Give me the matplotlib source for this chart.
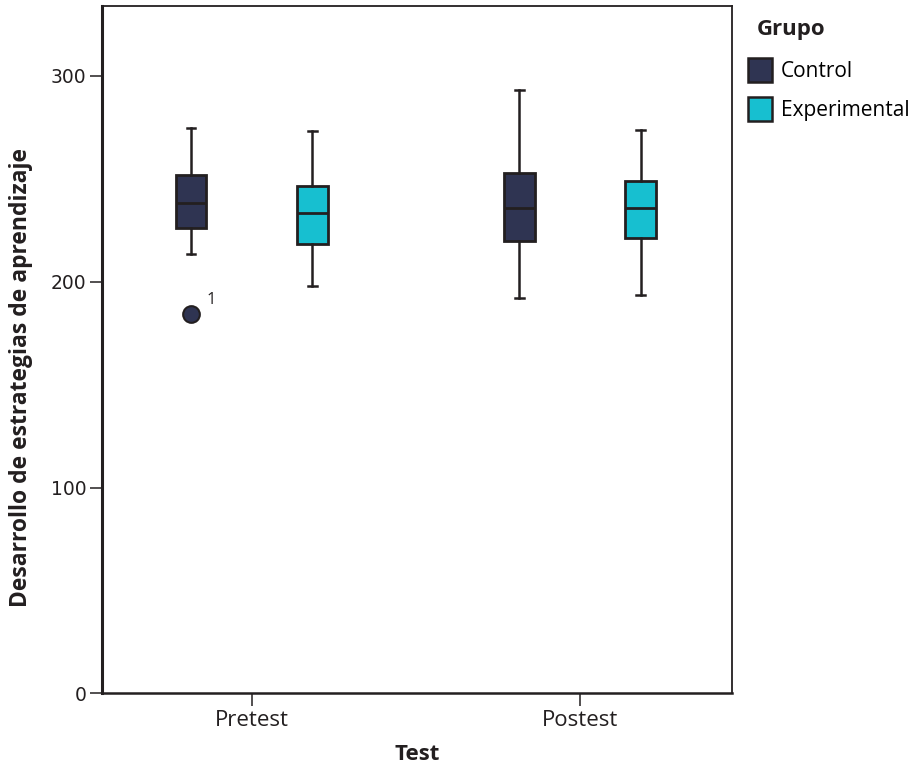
import matplotlib
matplotlib.use("Agg")
import matplotlib.pyplot as plt
from matplotlib.patches import Patch

plt.rcParams['font.family'] = ['Open Sans', 'DejaVu Sans']

tests = ["Pretest", "Postest"]
groups = ["Control", "Experimental"]
colors = ["#2f3452", "#17bfd0"]

# five-number summaries per group per test: [whislo, q1, med, q3, whishi]
control_stats = [[213.4, 225.9, 238.3, 251.7, 274.6],
                 [192.0, 219.6, 235.9, 252.9, 293.3]]
experimental_stats = [[197.9, 218.3, 233.1, 246.3, 273.2],
                      [193.6, 221.1, 235.8, 249.0, 273.5]]
control_outliers = [[184.5], []]
experimental_outliers = [[], []]
outlier_labels = [["1"], []]
yticks = [0, 100, 200, 300]

edge = "#231f20"
fig = plt.figure(figsize=(9.19, 7.64), dpi=100)
ax = fig.add_axes([0.1107, 0.0923, 0.6861, 0.9002])

offset = 0.185
width = 0.094
for gi, (stats_list, outs, col) in enumerate([(control_stats, control_outliers, colors[0]),
                                               (experimental_stats, experimental_outliers, colors[1])]):
    bxp_stats = []
    for ti, s in enumerate(stats_list):
        bxp_stats.append(dict(whislo=s[0], q1=s[1], med=s[2], q3=s[3], whishi=s[4],
                              fliers=outs[ti], label=tests[ti]))
    pos = [ti + (-offset if gi == 0 else offset) for ti in range(len(tests))]
    ax.bxp(bxp_stats, positions=pos, widths=width, patch_artist=True,
           capwidths=0.026, manage_ticks=False,
           boxprops=dict(facecolor=col, edgecolor=edge, linewidth=2),
           medianprops=dict(color=edge, linewidth=2),
           whiskerprops=dict(color=edge, linewidth=1.8),
           capprops=dict(color=edge, linewidth=1.8),
           flierprops=dict(marker='o', markerfacecolor=col, markeredgecolor=edge,
                           markersize=12, markeredgewidth=1.5))
    if gi == 0:
        for ti, outl in enumerate(outs):
            for v, lab in zip(outl, outlier_labels[ti]):
                ax.annotate(lab, (pos[ti], v), xytext=(11, 7), textcoords='offset points',
                            fontsize=12, color=edge)

ax.set_xlim(-0.457, 1.464)
ax.set_ylim(0, 334)
ax.set_xticks(range(len(tests)))
ax.set_xticklabels(tests, fontsize=16, color=edge)
ax.set_yticks(yticks)
ax.set_yticklabels([str(v) for v in yticks], fontsize=13.5, color=edge,
                   family='DejaVu Sans')
ax.tick_params(axis='both', direction='out', length=9, width=1.1, color=edge, pad=2)
ax.tick_params(axis='x', pad=3)
for side, sp in ax.spines.items():
    sp.set_color(edge)
    sp.set_linewidth(1.3)
ax.spines['left'].set_linewidth(2.2)
ax.spines['bottom'].set_linewidth(1.8)

ax.set_xlabel("Test", fontsize=16, fontweight='bold', color=edge)
ax.xaxis.set_label_coords(0.5, -0.0735)
ax.set_ylabel("Desarrollo de estrategias de aprendizaje", fontsize=16.5, fontweight='bold',
              color=edge)
ax.yaxis.set_label_coords(-0.109, 0.46)

fig.text(757 / 919, 1 - 30 / 764, "Grupo", fontsize=16, fontweight='bold', color=edge,
         ha='left', va='center')
handles = [Patch(facecolor=c, edgecolor=edge, linewidth=1.8) for c in colors]
leg = fig.legend(handles, groups, loc='upper left',
                 bbox_to_anchor=(0.794, 0.949), frameon=False, fontsize=15,
                 handlelength=1.15, handleheight=1.395, handletextpad=0.4,
                 labelspacing=0.72)

fig.savefig("out.png", dpi=100)
